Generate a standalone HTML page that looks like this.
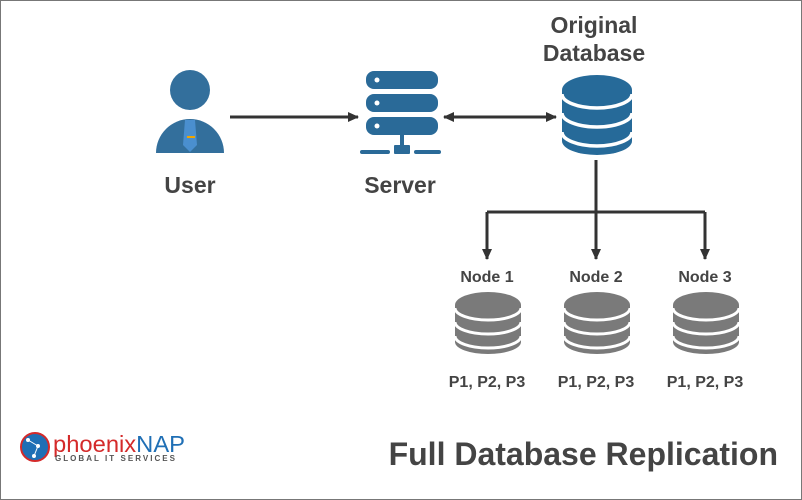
<!DOCTYPE html>
<html><head><meta charset="utf-8"><style>
html,body{margin:0;padding:0;background:#fff}
svg{display:block}
text{font-family:"Liberation Sans",Arial,sans-serif;font-weight:bold;fill:#444}
</style></head><body>
<svg width="802" height="500" viewBox="0 0 802 500" xmlns="http://www.w3.org/2000/svg">
<rect x="0.5" y="0.5" width="801" height="499" fill="#fff" stroke="#777"/>
<defs>
<marker id="ah" markerWidth="11" markerHeight="10" refX="10" refY="5" orient="auto" markerUnits="userSpaceOnUse">
<path d="M0,0 L11,5 L0,10 z" fill="#333"/></marker>
<marker id="as" markerWidth="11" markerHeight="10" refX="1" refY="5" orient="auto" markerUnits="userSpaceOnUse">
<path d="M11,0 L0,5 L11,10 z" fill="#333"/></marker>
</defs>
<!-- User -->
<circle cx="190" cy="90" r="20" fill="#336f9c"/>
<path d="M156,153 A34,34 0 0 1 224,153 Z" fill="#336f9c"/>
<path d="M185,120 L195,120 L197,145 L190,152 L183,145 Z" fill="#4a8fcf"/>
<rect x="187" y="136" width="8" height="2" fill="#f0a500"/>
<!-- Server -->
<g fill="#2a6a98">
<rect x="366" y="71" width="72" height="18" rx="8"/>
<rect x="366" y="94" width="72" height="18" rx="8"/>
<rect x="366" y="117" width="72" height="18" rx="8"/>
<rect x="400" y="135" width="4" height="12"/>
<rect x="394" y="145" width="16" height="9" rx="1"/>
<rect x="360" y="150" width="30" height="4" rx="2"/>
<rect x="414" y="150" width="27" height="4" rx="2"/>
</g>
<g fill="#fff"><circle cx="377" cy="80" r="2.5"/><circle cx="377" cy="103" r="2.5"/><circle cx="377" cy="126" r="2.5"/></g>
<!-- Arrows -->
<g stroke="#333" stroke-width="3" fill="none">
<line x1="230" y1="117" x2="358" y2="117" marker-end="url(#ah)"/>
<line x1="444" y1="117" x2="556" y2="117" marker-end="url(#ah)" marker-start="url(#as)"/>
<polyline points="596,160 596,212"/>
<polyline points="487,212 705,212"/>
<line x1="487" y1="212" x2="487" y2="259" marker-end="url(#ah)"/>
<line x1="596" y1="212" x2="596" y2="259" marker-end="url(#ah)"/>
<line x1="705" y1="212" x2="705" y2="259" marker-end="url(#ah)"/>
</g>
<!-- Original DB -->
<g>
<path d="M562,90 L562,141 A35,14 0 0 0 632,141 L632,90 Z" fill="#266a99"/>
<ellipse cx="597" cy="90" rx="35" ry="15" fill="#266a99"/>
<g stroke="#fff" stroke-width="3.5" fill="none">
<path d="M562,94 A35,14 0 0 0 632,94"/>
<path d="M562,113 A35,14 0 0 0 632,113"/>
<path d="M562,132 A35,14 0 0 0 632,132"/>
</g>
</g>
<!-- Gray DBs -->
<g id="gdb">
<path d="M455,305 L455,342 A33,12 0 0 0 521,342 L521,305 Z" fill="#7a7a7a"/>
<ellipse cx="488" cy="305" rx="33" ry="13" fill="#7a7a7a"/>
<g stroke="#fff" stroke-width="3" fill="none">
<path d="M455,308 A33,12 0 0 0 521,308"/>
<path d="M455,322 A33,12 0 0 0 521,322"/>
<path d="M455,336 A33,12 0 0 0 521,336"/>
</g>
</g>
<use href="#gdb" x="109"/>
<use href="#gdb" x="218"/>
<!-- Labels -->
<g text-anchor="middle">
<text x="190" y="193" font-size="23">User</text>
<text x="400" y="193" font-size="23">Server</text>
<text x="594" y="33" font-size="23">Original</text>
<text x="594" y="61" font-size="23">Database</text>
<text x="487" y="282" font-size="16">Node 1</text>
<text x="596" y="282" font-size="16">Node 2</text>
<text x="705" y="282" font-size="16">Node 3</text>
<text x="487" y="387" font-size="16">P1, P2, P3</text>
<text x="596" y="387" font-size="16">P1, P2, P3</text>
<text x="705" y="387" font-size="16">P1, P2, P3</text>
</g>
<text x="778" y="465" font-size="32" text-anchor="end">Full Database Replication</text>
<!-- logo -->
<circle cx="35" cy="447" r="14" fill="#1f6fb5" stroke="#d42a2a" stroke-width="2"/>
<g stroke="#fff" stroke-width="1" fill="#fff"><line x1="28" y1="440" x2="38" y2="446"/><line x1="38" y1="446" x2="34" y2="456"/><circle cx="28" cy="440" r="1.5"/><circle cx="38" cy="446" r="1.5"/><circle cx="34" cy="456" r="1.5"/></g>
<text x="53" y="452" font-size="23" textLength="132" lengthAdjust="spacingAndGlyphs" style="font-weight:normal;fill:#d42a2a">phoenix<tspan style="fill:#1f6fb5">NAP</tspan></text>
<text x="55" y="461" font-size="8" textLength="120" lengthAdjust="spacing" style="font-weight:bold;fill:#555">GLOBAL IT SERVICES</text>
</svg>
</body></html>
